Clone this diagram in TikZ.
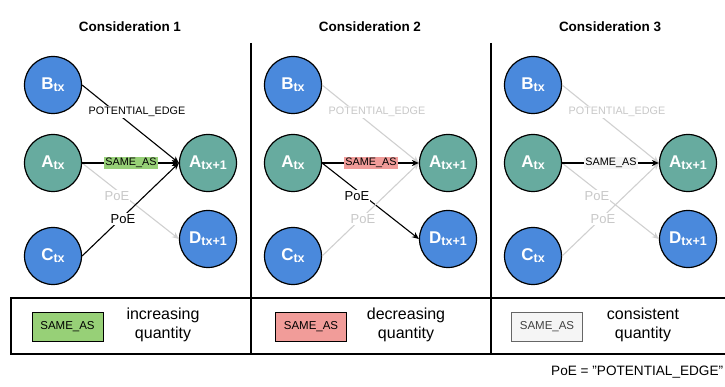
\documentclass[tikz,border=0pt]{standalone}
\usepackage{fontspec}
\setmainfont{Liberation Sans}
\usetikzlibrary{arrows.meta}
\definecolor{nblue}{RGB}{74,137,220}
\definecolor{nteal}{RGB}{103,171,159}
\definecolor{lgreen}{RGB}{151,208,119}
\definecolor{lred}{RGB}{241,156,153}
\definecolor{lgray}{RGB}{245,245,245}
\definecolor{bgray}{RGB}{102,102,102}
\definecolor{fade}{RGB}{208,208,208}
\definecolor{fadetext}{RGB}{200,200,200}
\newcommand\lab[2]{{\fontsize{17}{17}\selectfont #1}\raisebox{-2.2pt}{\fontsize{12.5}{12.5}\selectfont #2}}
\tikzset{
  circ/.style={circle, draw=black, line width=1.2pt, minimum size=57pt, inner sep=0pt, text=white, font=\bfseries},
  bnode/.style={circ, fill=nblue},
  tnode/.style={circ, fill=nteal},
  ptitle/.style={font=\bfseries\fontsize{13.5}{14}\selectfont},
  edge/.style={line width=1.1pt, -{Stealth[length=7pt,width=6pt]}},
  elab/.style={fill=white, inner sep=1pt, font=\fontsize{10.8}{11}\selectfont},
  plab/.style={fill=white, inner sep=1pt, font=\fontsize{13}{13}\selectfont},
  legbox/.style={draw=black, line width=1pt, minimum width=71pt, minimum height=29pt, inner sep=0pt, font=\fontsize{11.5}{12}\selectfont},
  legtext/.style={align=center, font=\fontsize{16}{19}\selectfont},
}
% #1 xshift, #2 id, #3 B->A' colour, #4 SAME_AS bg, #5 A->D' colour, #6 C->A' colour, #7 title, #8 label colour BA, #9 label colour AD
\newcommand\mypanel[9]{%
\begin{scope}[xshift=#1pt]
  \node[ptitle] (t#2) at (130,27) {#7};
  \node[bnode] (B#2) at (53,85) {\lab{B}{tx}};
  \node[tnode] (A#2) at (53,163) {\lab{A}{tx}};
  \node[bnode] (C#2) at (53,256) {\lab{C}{tx}};
  \node[tnode] (P#2) at (208,163) {\lab{A}{tx+1}};
  \node[bnode] (D#2) at (208,239) {\lab{D}{tx+1}};
  \draw[edge, draw=#3] (B#2.east) -- (P#2.west);
  \draw[edge, draw=#5] (A#2.east) -- (D#2.west);
  \draw[edge, draw=#6] (C#2.east) -- (P#2.west);
  \draw[edge, draw=black] (A#2.east) -- (P#2.west);
  \node[elab, text=#8] (l1#2) at (137,112) {POTENTIAL\_EDGE};
  \node[elab, fill=#4] (l2#2) at (131,163) {SAME\_AS};
  \node[plab, text=#9] (l3#2) at (117,196) {PoE};
  \node[plab, text=#8] (l4#2) at (123,219) {PoE};
\end{scope}}
\begin{document}
\begin{tikzpicture}[x=1pt, y=-1pt]
\useasboundingbox (0,0) rectangle (725,387);
\mypanel{0}{a}{black}{lgreen}{fade}{black}{Consideration 1}{black}{fadetext}
\mypanel{240}{b}{fade}{lred}{black}{fade}{Consideration 2}{fadetext}{black}
\mypanel{480}{c}{fade}{lgray}{fade}{fade}{Consideration 3}{fadetext}{fadetext}
% separators and legend frame
\draw[line width=1.1pt] (251,43) -- (251,354);
\draw[line width=1.1pt] (491,43) -- (491,354);
\draw[line width=1.1pt] (11,298) rectangle (728,354);
\node[legbox, fill=lgreen] (g1) at (67.5,326.5) {SAME\_AS};
\node[legtext] (g1t) at (163,324.5) {increasing\\quantity};
\node[legbox, fill=lred] (g2) at (311,326.5) {SAME\_AS};
\node[legtext] (g2t) at (406,324.5) {decreasing\\quantity};
\node[legbox, fill=lgray, draw=bgray, text=black!75] (g3) at (547,326.5) {SAME\_AS};
\node[legtext] (g3t) at (643,324.5) {consistent\\quantity};
\node[anchor=west, font=\fontsize{13.6}{14}\selectfont, inner sep=0pt] (foot) at (551,372) {PoE = "POTENTIAL\_EDGE"};
\end{tikzpicture}
\end{document}
